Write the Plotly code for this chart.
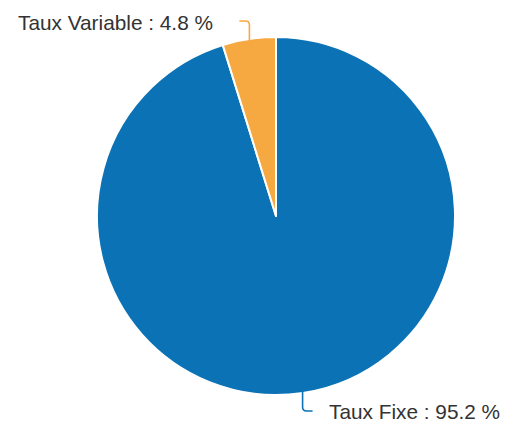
import math
import plotly.graph_objects as go

labels = ["Taux Fixe", "Taux Variable"]
values = [95.2, 4.8]
colors = ["#0B72B5", "#F7A941"]

W, H = 513, 425
OFF = 8  # page body margin offset
CX, CY = 276 - OFF, 216 - OFF  # pie centre in figure pixels
R_DOM = 179   # half-size of pie domain (px)
R = 177       # drawn radius (px)

LEAD_V = 20      # vertical leader length (px)
LEAD_H = 10      # horizontal leader length (px)
GAPS = [14, 24]  # gap between leader end and text (px)
FONT = dict(family="Liberation Sans, Arial, sans-serif", size=20.8, color="#333333")

fig = go.Figure(go.Pie(
    labels=labels,
    values=values,
    sort=False,
    direction="clockwise",
    rotation=0,
    marker=dict(colors=colors, line=dict(color="white", width=2)),
    textinfo="none",
    showlegend=False,
    hoverinfo="label+value",
    domain=dict(x=[(CX - R_DOM) / W, (CX + R_DOM) / W],
                y=[1 - (CY + R_DOM) / H, 1 - (CY - R_DOM) / H]),
))


def px(x):
    return x / W


def py(y):
    return 1 - y / H


total = sum(values)
start = 0.0
shapes, annotations = [], []
for lab, val, col, gap in zip(labels, values, colors, GAPS):
    span = val / total * 360.0
    mid = start + span / 2.0  # clockwise from 12 o'clock
    start += span
    th = math.radians(mid)
    ex = CX + R * math.sin(th)
    ey = CY - R * math.cos(th)
    vs = -1 if math.cos(th) > 0 else 1      # up for top half, down for bottom
    hs = 1 if math.sin(th) > 0 else -1      # right / left
    y1 = ey + vs * LEAD_V
    x1 = ex + hs * LEAD_H
    c = 4
    path = (f"M {px(ex)},{py(ey)} L {px(ex)},{py(y1 - vs * c)} "
            f"Q {px(ex)},{py(y1)} {px(ex + hs * c)},{py(y1)} L {px(x1)},{py(y1)}")
    shapes.append(dict(type="path", xref="paper", yref="paper", path=path,
                       line=dict(color=col, width=1.6)))
    annotations.append(dict(
        x=px(x1 + hs * gap), y=py(y1 + 1), xref="paper", yref="paper",
        text=f"{lab} : {val} %", showarrow=False,
        xanchor="left" if hs > 0 else "right", yanchor="middle",
        font=FONT,
    ))

fig.update_layout(
    width=W, height=H,
    margin=dict(l=0, r=0, t=0, b=0),
    paper_bgcolor="white", plot_bgcolor="white",
    shapes=shapes, annotations=annotations,
)
fig.write_html("out.html")
